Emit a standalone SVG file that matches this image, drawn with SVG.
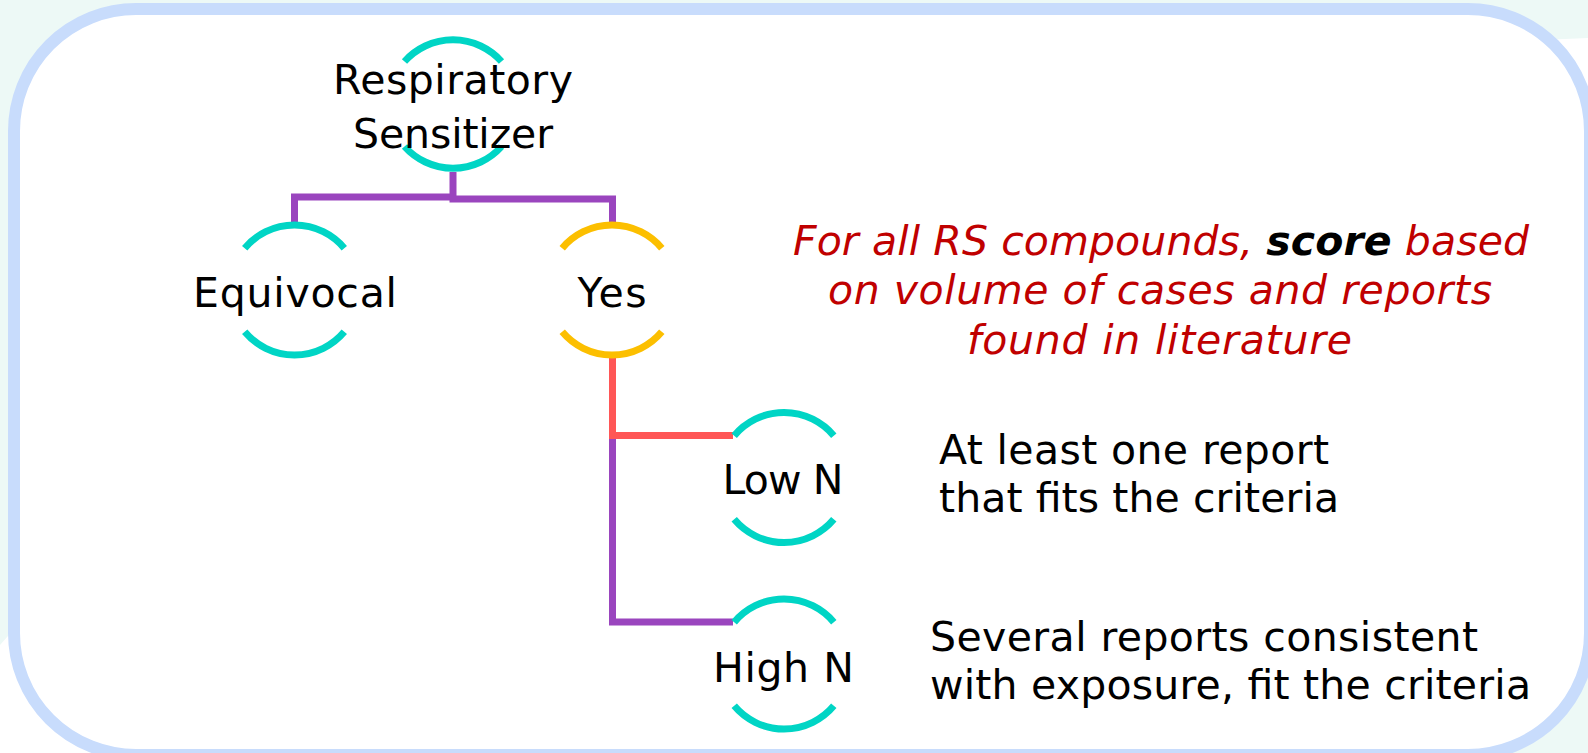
<svg xmlns="http://www.w3.org/2000/svg" width="1588" height="753" viewBox="0 0 1588 753">
<style>
.lbl{font-family:"DejaVu Sans","Open Sans","Liberation Sans",sans-serif;font-size:41px;fill:#000}
.mid{text-anchor:middle}
.red{font-family:"DejaVu Sans","Open Sans","Liberation Sans",sans-serif;font-size:41px;font-style:italic;fill:#c00000;text-anchor:middle}
.bold{font-weight:bold;fill:#000}
.arcT{fill:none;stroke:#00d5c5;stroke-width:7}
.arcY{fill:none;stroke:#fcbf00;stroke-width:7}
.con{fill:none;stroke-width:7;stroke-linejoin:miter;stroke-linecap:butt}
</style>
<rect x="0" y="0" width="1588" height="753" fill="#ffffff"/>
<polygon points="0,0 1588,0 1588,38 400,90 40,600 0,645" fill="#edf9f6"/>
<polygon points="1588,650 1588,753 1440,753" fill="#edf9f6"/>
<rect x="14" y="9" width="1576" height="746" rx="122" ry="122" fill="#ffffff" stroke="#c8dcfc" stroke-width="12"/>

<g id="connectors">
<path class="con" stroke="#9a45be" d="M453,172 V197 H294.5 V222"/>
<path class="con" stroke="#9a45be" d="M453,196 V199 H612.5 V222"/>
<path class="con" stroke="#ff5656" d="M612.5,358 V435.5 H733"/>
<path class="con" stroke="#9a45be" d="M612.5,439 V622 H733"/>
</g>

<g id="node-respiratory">
<path class="arcT" d="M404.5,61.5 A65,65 0 0 1 501.5,61.5"/>
<path class="arcT" d="M404.5,146.5 A65,65 0 0 0 501.5,146.5"/>
<text class="lbl mid" x="453" y="94" textLength="240">Respiratory</text>
<text class="lbl mid" x="453" y="148" textLength="200">Sensitizer</text>
</g>

<g id="node-equivocal">
<path class="arcT" d="M244.7,248.2 A65,65 0 0 1 344.3,248.2"/>
<path class="arcT" d="M244.7,331.8 A65,65 0 0 0 344.3,331.8"/>
<text class="lbl mid" x="295" y="307" textLength="204">Equivocal</text>
</g>

<g id="node-yes">
<path class="arcY" d="M562.2,248.2 A65,65 0 0 1 661.8,248.2"/>
<path class="arcY" d="M562.2,331.8 A65,65 0 0 0 661.8,331.8"/>
<text class="lbl mid" x="612" y="307" textLength="69">Yes</text>
</g>

<g id="node-lown">
<path class="arcT" d="M734.2,435.7 A65,65 0 0 1 833.8,435.7"/>
<path class="arcT" d="M734.2,519.3 A65,65 0 0 0 833.8,519.3"/>
<text class="lbl mid" x="783" y="494" textLength="121">Low N</text>
</g>

<g id="node-highn">
<path class="arcT" d="M734.2,622.2 A65,65 0 0 1 833.8,622.2"/>
<path class="arcT" d="M734.2,705.8 A65,65 0 0 0 833.8,705.8"/>
<text class="lbl mid" x="783.5" y="682" textLength="141">High N</text>
</g>

<g id="note-rs">
<text class="red" x="1161" y="255" textLength="736">For all RS compounds, <tspan class="bold">score</tspan> based</text>
<text class="red" x="1160" y="304" textLength="664">on volume of cases and reports</text>
<text class="red" x="1159.5" y="354" textLength="385">found in literature</text>
</g>

<g id="desc-lown">
<text class="lbl" x="939" y="464" textLength="390">At least one report</text>
<text class="lbl" x="939" y="512" textLength="400">that fits the criteria</text>
</g>

<g id="desc-highn">
<text class="lbl" x="930" y="651" textLength="548">Several reports consistent</text>
<text class="lbl" x="930" y="699" textLength="601">with exposure, fit the criteria</text>
</g>
</svg>
